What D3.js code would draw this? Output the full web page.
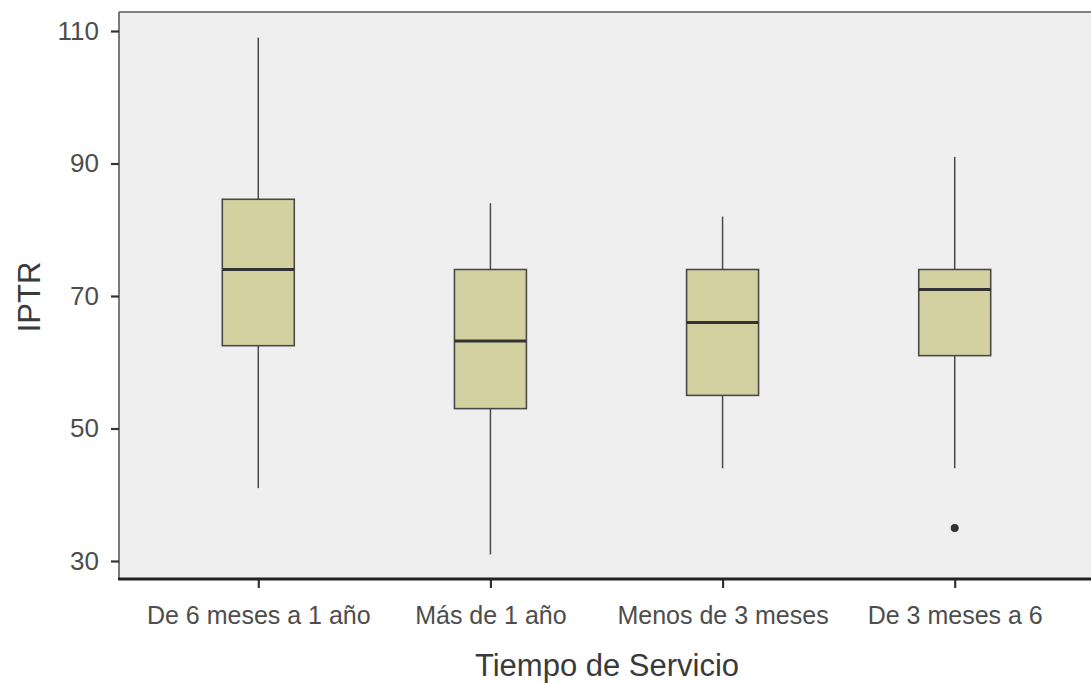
<!DOCTYPE html>
<html>
<head>
<meta charset="utf-8">
<script src="https://cdn.jsdelivr.net/npm/d3@7"></script>
<style>
  html, body { margin: 0; padding: 0; background: #ffffff; }
  svg { display: block; font-family: "Liberation Sans", Arial, sans-serif; }
</style>
</head>
<body>
<svg id="chart" width="1091" height="683"></svg>
<script>
// Box-plot summaries of IPTR by length of service
const categories = ["De 6 meses a 1 año", "Más de 1 año", "Menos de 3 meses", "De 3 meses a 6"];
const whiskerLow  = [41, 31, 44, 44];
const q1          = [62.5, 53, 55, 61];
const medians     = [74, 63.2, 66, 71];
const q3          = [84.6, 74, 74, 74];
const whiskerHigh = [109, 84, 82, 91];
const outliers    = [[], [], [], [35]];
const yTicks      = [30, 50, 70, 90, 110];

const svg = d3.select("#chart");
const panel = { left: 119, right: 1094, top: 12, bottom: 579 };

const x = d3.scalePoint()
  .domain(categories)
  .range([panel.left, panel.right])
  .padding(0.6);

const y = d3.scaleLinear()
  .domain([30, 110])
  .range([561, 31]);

// panel background
svg.append("rect")
  .attr("x", panel.left).attr("y", panel.top)
  .attr("width", panel.right - panel.left)
  .attr("height", panel.bottom - panel.top)
  .attr("fill", "#efefef");

// panel top / left border
svg.append("line")
  .attr("x1", panel.left).attr("x2", panel.right)
  .attr("y1", panel.top).attr("y2", panel.top)
  .attr("stroke", "#5a5a5a").attr("stroke-width", 1.6);
svg.append("line")
  .attr("x1", panel.left).attr("x2", panel.left)
  .attr("y1", panel.top).attr("y2", panel.bottom)
  .attr("stroke", "#5a5a5a").attr("stroke-width", 1.6);

const data = categories.map((c, i) => ({
  cat: c, lo: whiskerLow[i], q1: q1[i], med: medians[i], q3: q3[i], hi: whiskerHigh[i], out: outliers[i]
}));

const boxW = x.step() * 0.31;
const g = svg.append("g");

const grp = g.selectAll("g.box").data(data).join("g").attr("class", "box");

// whiskers
grp.append("line")
  .attr("x1", d => x(d.cat)).attr("x2", d => x(d.cat))
  .attr("y1", d => y(d.hi)).attr("y2", d => y(d.q3))
  .attr("stroke", "#4a4a4a").attr("stroke-width", 1.5);
grp.append("line")
  .attr("x1", d => x(d.cat)).attr("x2", d => x(d.cat))
  .attr("y1", d => y(d.q1)).attr("y2", d => y(d.lo))
  .attr("stroke", "#4a4a4a").attr("stroke-width", 1.5);

// boxes
grp.append("rect")
  .attr("x", d => x(d.cat) - boxW / 2)
  .attr("y", d => y(d.q3))
  .attr("width", boxW)
  .attr("height", d => y(d.q1) - y(d.q3))
  .attr("fill", "#d4d1a1")
  .attr("stroke", "#4a4a4a").attr("stroke-width", 1.6);

// medians
grp.append("line")
  .attr("x1", d => x(d.cat) - boxW / 2).attr("x2", d => x(d.cat) + boxW / 2)
  .attr("y1", d => y(d.med)).attr("y2", d => y(d.med))
  .attr("stroke", "#333333").attr("stroke-width", 3);

// outliers
grp.selectAll("circle").data(d => d.out.map(v => ({ cat: d.cat, v })))
  .join("circle")
  .attr("cx", d => x(d.cat)).attr("cy", d => y(d.v))
  .attr("r", 4).attr("fill", "#333333");

// y axis
const yAxis = svg.append("g")
  .attr("transform", `translate(${panel.left},0)`)
  .call(d3.axisLeft(y).tickValues(yTicks).tickSize(8).tickPadding(12).tickFormat(d3.format("d")));
yAxis.select(".domain").remove();
yAxis.selectAll(".tick line").attr("stroke", "#333333").attr("stroke-width", 2.2);
yAxis.selectAll(".tick text")
  .attr("fill", "#4d4d4d").style("font-size", "26px")
  .style("font-family", "'Liberation Sans', Arial, sans-serif");

// x axis
const xAxis = svg.append("g")
  .attr("transform", `translate(0,${panel.bottom})`)
  .call(d3.axisBottom(x).tickSize(9).tickPadding(18));
xAxis.select(".domain").remove();
xAxis.selectAll(".tick line").attr("stroke", "#333333").attr("stroke-width", 2.2);
xAxis.selectAll(".tick text")
  .attr("fill", "#4d4d4d").style("font-size", "25px")
  .style("font-family", "'Liberation Sans', Arial, sans-serif");

// bottom axis line
svg.append("line")
  .attr("x1", panel.left - 1).attr("x2", panel.right)
  .attr("y1", panel.bottom).attr("y2", panel.bottom)
  .attr("stroke", "#222222").attr("stroke-width", 3);

// axis titles
svg.append("text")
  .attr("x", 607).attr("y", 676)
  .attr("text-anchor", "middle")
  .attr("fill", "#3a3a3a")
  .style("font-size", "31px")
  .text("Tiempo de Servicio");

svg.append("text")
  .attr("transform", "translate(40,297) rotate(-90)")
  .attr("text-anchor", "middle")
  .attr("fill", "#3a3a3a")
  .style("font-size", "31px")
  .text("IPTR");
</script>
</body>
</html>
